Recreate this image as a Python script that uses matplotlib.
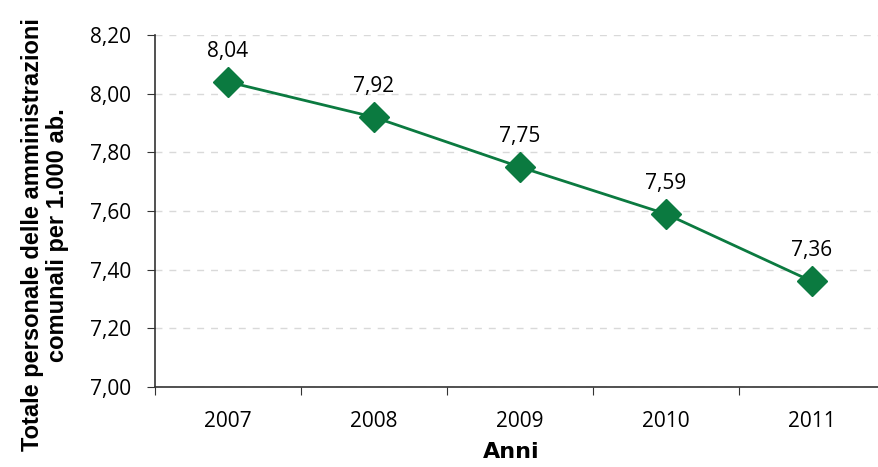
import matplotlib
matplotlib.use("Agg")
import matplotlib.pyplot as plt

years = ["2007", "2008", "2009", "2010", "2011"]
values = [8.04, 7.92, 7.75, 7.59, 7.36]
yticks = [7.00, 7.20, 7.40, 7.60, 7.80, 8.00, 8.20]
ytick_labels = ["7,00", "7,20", "7,40", "7,60", "7,80", "8,00", "8,20"]

green = "#0b7a40"
fig = plt.figure(figsize=(8.79, 4.67), dpi=100)
W, H = 879, 467
left, right, top, bottom = 155, 885, 35, 387
ax = fig.add_axes([left / W, 1 - bottom / H, (right - left) / W, (bottom - top) / H])

x = list(range(len(years)))
ax.plot(x, values, color=green, lw=2, marker="D", ms=15, mfc=green, mec=green, zorder=3, clip_on=False)
for xi, v in zip(x, values):
    ax.annotate(f"{v:.2f}".replace(".", ","), (xi, v), xytext=(0, 22), textcoords="offset points",
                ha="center", va="center", fontsize=15, family="Open Sans", color="black")

ax.set_xlim(-0.5, len(years) - 0.5)
ax.set_ylim(7.0, 8.2)
ax.set_yticks(yticks)
ax.set_yticklabels(ytick_labels, fontsize=15, family="Open Sans")
ax.set_xticks([i - 0.5 for i in range(len(years) + 1)], minor=False)
ax.set_xticklabels([""] * (len(years) + 1))
ax.set_xticks(x, minor=True)
ax.set_xticklabels(years, minor=True, fontsize=15, family="Open Sans")
ax.tick_params(axis="x", which="minor", length=0, pad=17)
ax.tick_params(axis="x", which="major", length=6, direction="out", color="#333333")
ax.tick_params(axis="y", length=6, direction="out", color="#333333", pad=11)

ax.grid(axis="y", color="#d9d9d9", ls=(0, (5, 5)), lw=1)
ax.set_axisbelow(True)
for s in ["top", "right"]:
    ax.spines[s].set_visible(False)
for s in ["left", "bottom"]:
    ax.spines[s].set_color("#333333")
    ax.spines[s].set_linewidth(1.2)

fig.text(511 / W, 1 - 452 / H, "Anni", fontsize=16, fontweight="bold", family="Liberation Sans Narrow",
         ha="center", va="center")
fig.text(45 / W, 1 - 235 / H, "Totale personale delle amministrazioni\ncomunali per 1.000 ab.", fontsize=17,
         fontweight="bold", family="Liberation Sans", rotation=90, ha="center", va="center",
         multialignment="center", linespacing=1.15)

fig.savefig("out.png", dpi=100)
